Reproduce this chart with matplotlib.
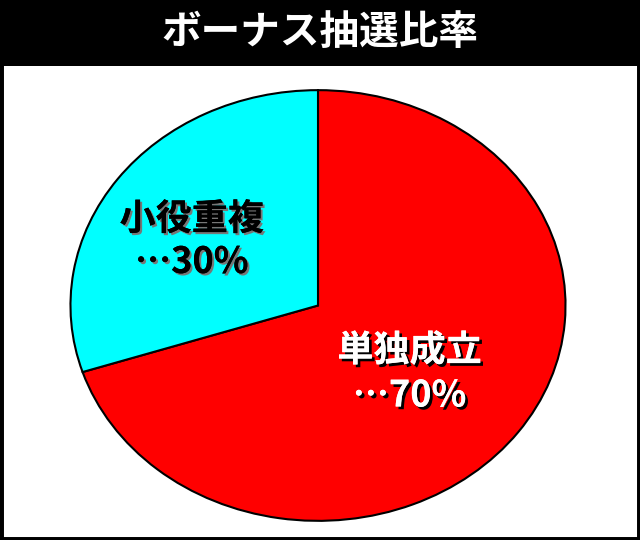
import matplotlib
matplotlib.use("Agg")
import matplotlib.pyplot as plt
import matplotlib.patheffects as pe
from matplotlib.patches import Rectangle

title = "ボーナス抽選比率"
labels = ["単独成立", "小役重複"]
values = [70, 30]
colors = ["#ff0000", "#00ffff"]

plt.rcParams['font.family'] = ['Noto Sans CJK JP', 'DejaVu Sans']

W, H = 640, 540
fig = plt.figure(figsize=(W / 100, H / 100), dpi=100)
fig.patch.set_facecolor("white")

# frame and title bar
fig.patches.append(Rectangle((0, 0), 1, 1, transform=fig.transFigure,
                             facecolor="none", edgecolor="black", linewidth=5))
fig.patches.append(Rectangle((0, 1 - 66 / H), 1, 66 / H, transform=fig.transFigure,
                             facecolor="black", edgecolor="none"))
fig.text(0.5, 1 - 33 / H, title, color="white", fontsize=28.5, fontweight="bold",
         ha="center", va="center")

# pie area (elliptical)
ax = fig.add_axes([68 / W, 17 / H, 500 / W, 435 / H])
ax.pie(values, colors=colors, startangle=90, counterclock=False,
       wedgeprops=dict(edgecolor="black", linewidth=1.5))
ax.set_aspect("auto")
ax.set_xlim(-1.01, 1.01)
ax.set_ylim(-1.01, 1.01)
ax.axis("off")

red_fx = [pe.withSimplePatchShadow(offset=(2, -2), shadow_rgbFace="black", alpha=1), pe.Normal()]
cyan_fx = [pe.withSimplePatchShadow(offset=(1.5, -1.5), shadow_rgbFace="#777777", alpha=1), pe.Normal()]

ax.text(0.37, -0.21, labels[0], color="white", fontsize=26, fontweight="bold",
        ha="center", va="center", path_effects=red_fx)
ax.text(0.37, -0.42, "…%d%%" % values[0], color="white", fontsize=26, fontweight="bold",
        ha="center", va="center", path_effects=red_fx)
ax.text(-0.51, 0.40, labels[1], color="black", fontsize=26, fontweight="bold",
        ha="center", va="center", path_effects=cyan_fx)
ax.text(-0.51, 0.20, "…%d%%" % values[1], color="black", fontsize=26, fontweight="bold",
        ha="center", va="center", path_effects=cyan_fx)

fig.savefig("out.png", dpi=100)
